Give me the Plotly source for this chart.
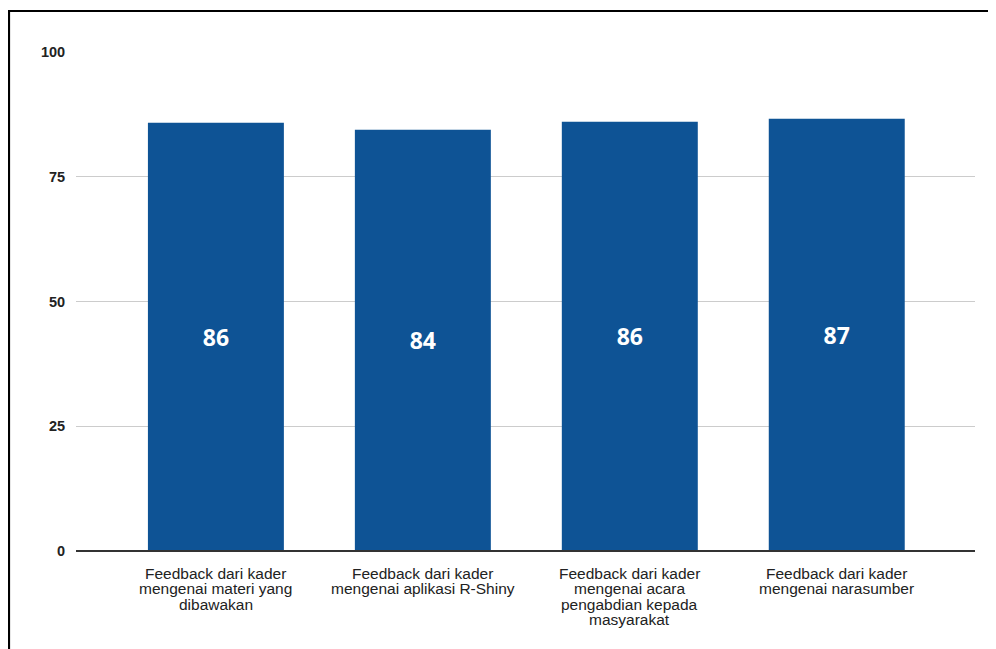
import plotly.graph_objects as go

categories = [
    "Feedback dari kader<br>mengenai materi yang<br>dibawakan",
    "Feedback dari kader<br>mengenai aplikasi R-Shiny",
    "Feedback dari kader<br>mengenai acara<br>pengabdian kepada<br>masyarakat",
    "Feedback dari kader<br>mengenai narasumber",
]
values = [85.8, 84.4, 86.0, 86.6]
y_ticks = [0, 25, 50, 75, 100]

# page is rendered with an 8px body margin, so figure coords = page coords - 8
W, H = 996, 649
L, R, T, B = 68, 29, 44, 106
pw, ph = W - L - R, H - T - B

xs = list(range(len(categories)))

fig = go.Figure(go.Bar(
    x=xs,
    y=values,
    marker=dict(color="#0e5395", line=dict(width=0)),
    width=0.657,
    texttemplate="%{y:.0f}",
    textposition="inside",
    insidetextanchor="middle",
    textfont=dict(family="Open Sans", size=23, color="white", weight="bold"),
    textangle=0,
))

def px2x(fx):
    return (fx - L) / pw

def py2y(fy):
    return (H - B - fy) / ph

annotations = []
for i, cat in enumerate(categories):
    for k, line in enumerate(cat.split("<br>")):
        annotations.append(dict(
            x=i, xref="x", y=0, yref="paper",
            text=line, showarrow=False,
            xanchor="center", yanchor="middle",
            yshift=-(22 + 15.5 * k),
            font=dict(family="Arial", size=15.5, color="#222"),
        ))

fig.update_layout(
    width=W, height=H,
    margin=dict(l=L, r=R, t=T, b=B),
    plot_bgcolor="white", paper_bgcolor="white",
    showlegend=False,
    xaxis=dict(
        tickvals=xs,
        showticklabels=False,
        range=[-0.676, 3.668],
        showgrid=False,
        zeroline=False,
        showline=False,
        ticks="",
    ),
    yaxis=dict(
        range=[0, 100],
        tickvals=y_ticks,
        showgrid=True, gridcolor="#cccccc", gridwidth=1,
        zeroline=False,
        ticks="outside", ticklen=7, tickcolor="rgba(0,0,0,0)",
        tickfont=dict(family="Arial", size=14.5, color="#222", weight="bold"),
    ),
    annotations=annotations,
    shapes=[
        dict(type="line", xref="paper", yref="paper", x0=0, x1=1, y0=0, y1=0,
             line=dict(color="#333333", width=2), layer="above"),
        dict(type="path", xref="paper", yref="paper",
             path=f"M {px2x(1)} {py2y(700)} L {px2x(1)} {py2y(3)} L {px2x(1010)} {py2y(3)}",
             line=dict(color="black", width=2.2)),
    ],
)

fig.write_html("out.html")
